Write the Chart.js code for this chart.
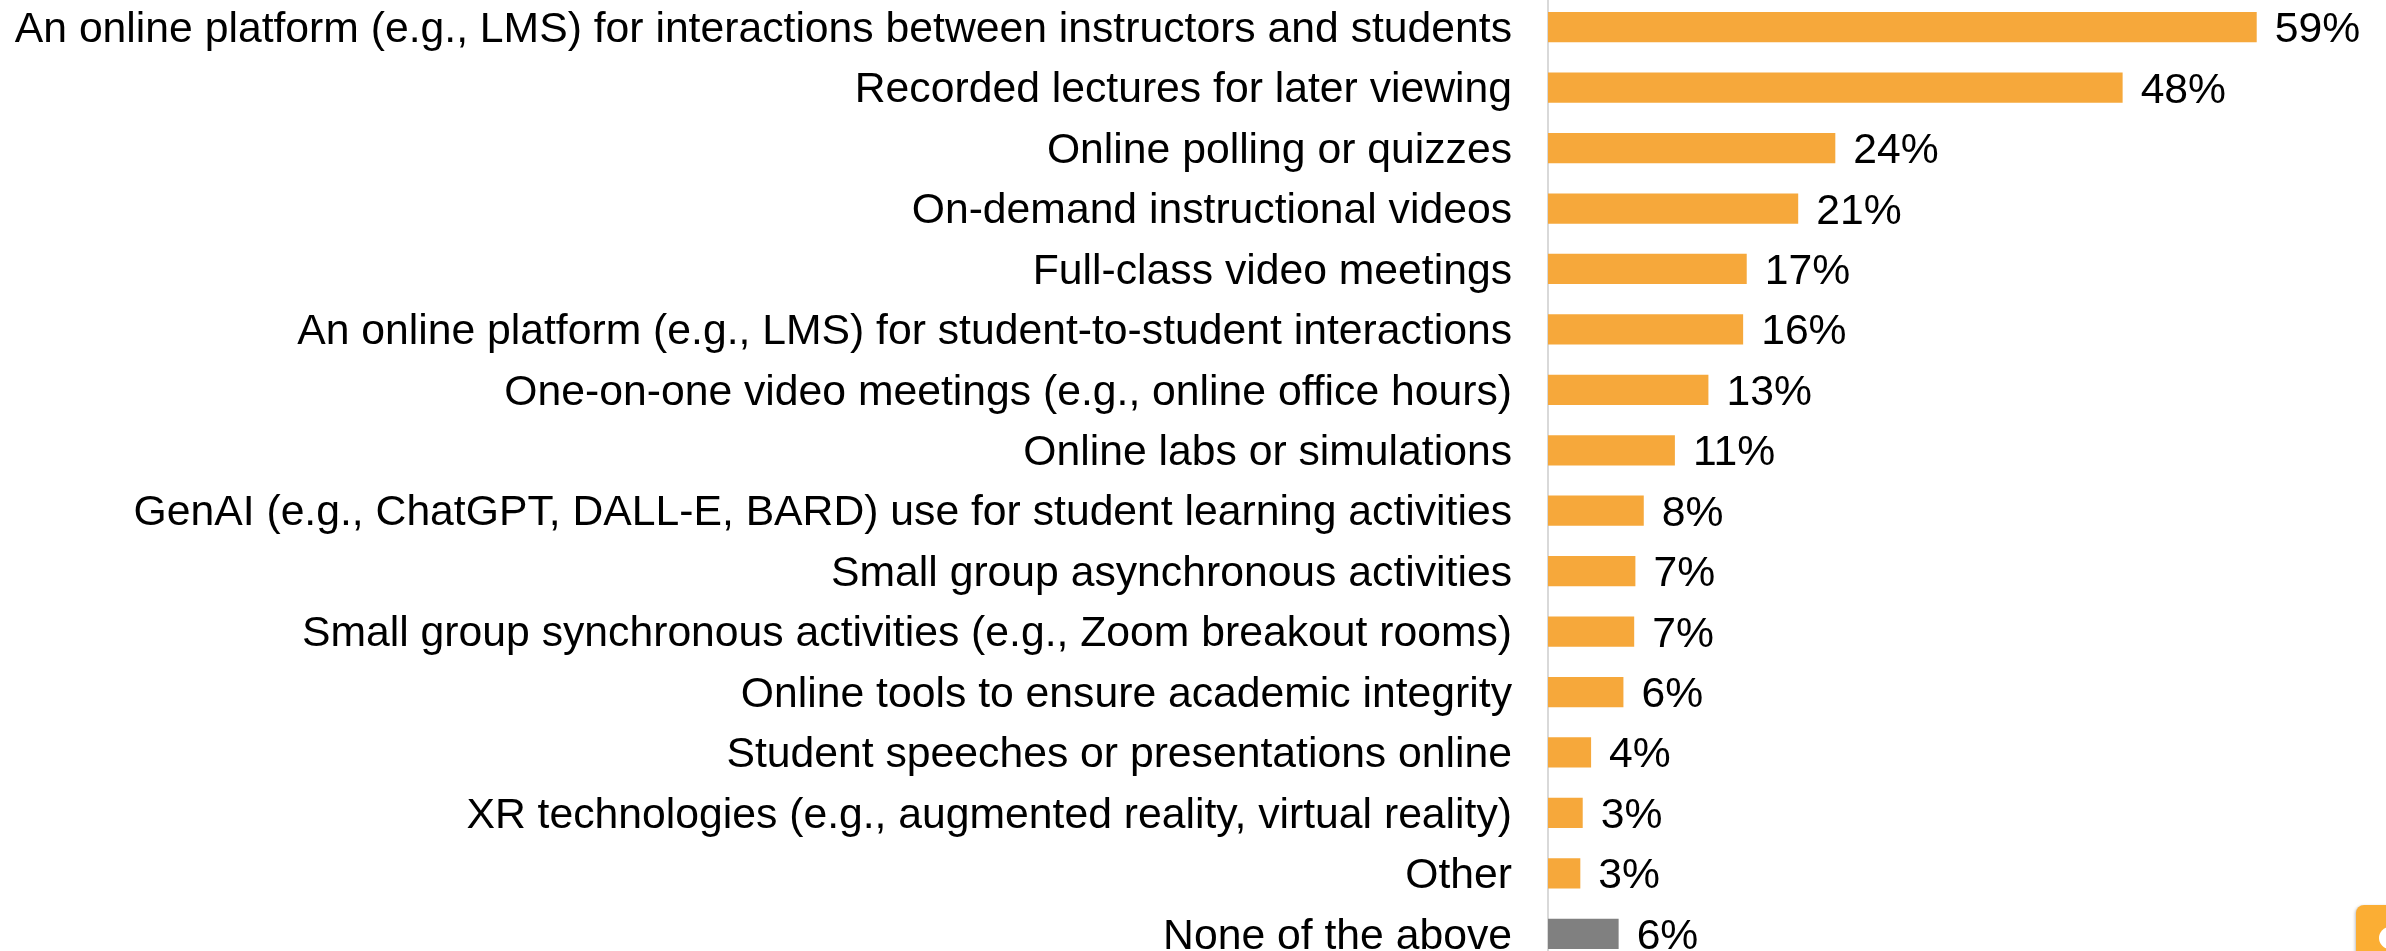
<!DOCTYPE html>
<html>
<head>
<meta charset="utf-8">
<script src="https://cdn.jsdelivr.net/npm/chart.js@4.4.1/dist/chart.umd.min.js"></script>
<style>
  html, body { margin: 0; padding: 0; background: #fff; overflow: hidden; }
  #wrap { position: absolute; left: 0; top: -3px; width: 2386px; height: 967px; }
  #badge { position: absolute; left: 2356px; top: 905px; width: 50px; height: 60px;
    background: #fbae34; border-radius: 8px; box-shadow: -1px 1px 3px rgba(0,0,0,0.25); overflow: hidden; }
  #badge span { position: absolute; left: 23px; top: 22px; width: 22px; height: 22px; border-radius: 50%; background: #fff; }
</style>
</head>
<body>
<div id="wrap"><canvas id="chart"></canvas></div>
<div id="badge"><span></span></div>
<script>
const categories = [
  "An online platform (e.g., LMS) for interactions between instructors and students",
  "Recorded lectures for later viewing",
  "Online polling or quizzes",
  "On-demand instructional videos",
  "Full-class video meetings",
  "An online platform (e.g., LMS) for student-to-student interactions",
  "One-on-one video meetings (e.g., online office hours)",
  "Online labs or simulations",
  "GenAI (e.g., ChatGPT, DALL-E, BARD) use for student learning activities",
  "Small group asynchronous activities",
  "Small group synchronous activities (e.g., Zoom breakout rooms)",
  "Online tools to ensure academic integrity",
  "Student speeches or presentations online",
  "XR technologies (e.g., augmented reality, virtual reality)",
  "Other",
  "None of the above"
];
const percents = [59.2, 48.0, 24.0, 20.9, 16.6, 16.3, 13.4, 10.6, 8.0, 7.3, 7.2, 6.3, 3.6, 2.9, 2.7, 5.9];
const barColors = categories.map((c, i) => i === categories.length - 1 ? "#808080" : "#f6a83b");

const fontFamily = "Arial, 'Liberation Sans', sans-serif";
const fontSize = 42.7;

// draws the "59%" style labels after each bar
const valueLabels = {
  id: "valueLabels",
  afterDatasetsDraw(chart) {
    const ctx = chart.ctx;
    const meta = chart.getDatasetMeta(0);
    ctx.save();
    ctx.font = fontSize + "px " + fontFamily;
    ctx.fillStyle = "#000";
    ctx.textAlign = "left";
    ctx.textBaseline = "alphabetic";
    meta.data.forEach((bar, i) => {
      ctx.fillText(Math.round(percents[i]) + "%", bar.x + 18, bar.y + 15);
    });
    ctx.restore();
  }
};

new Chart(document.getElementById("chart"), {
  type: "bar",
  data: {
    labels: categories,
    datasets: [{
      data: percents,
      backgroundColor: barColors,
      borderWidth: 0,
      barPercentage: 0.5,
      categoryPercentage: 1.0
    }]
  },
  options: {
    indexAxis: "y",
    responsive: true,
    maintainAspectRatio: false,
    devicePixelRatio: 1,
    animation: false,
    layout: { padding: 0 },
    plugins: {
      legend: { display: false },
      tooltip: { enabled: false }
    },
    scales: {
      x: {
        display: false,
        min: 0,
        max: 70
      },
      y: {
        grid: { display: false, drawTicks: false },
        border: { display: true, color: "#d9d9d9", width: 2 },
        ticks: {
          color: "#000",
          padding: 36,
          labelOffset: 3,
          font: { family: fontFamily, size: fontSize }
        },
        afterFit(scale) {
          scale.width = 1548;
          scale.paddingTop = 0;
          scale.paddingBottom = 0;
        }
      }
    }
  },
  plugins: [valueLabels]
});
</script>
</body>
</html>
